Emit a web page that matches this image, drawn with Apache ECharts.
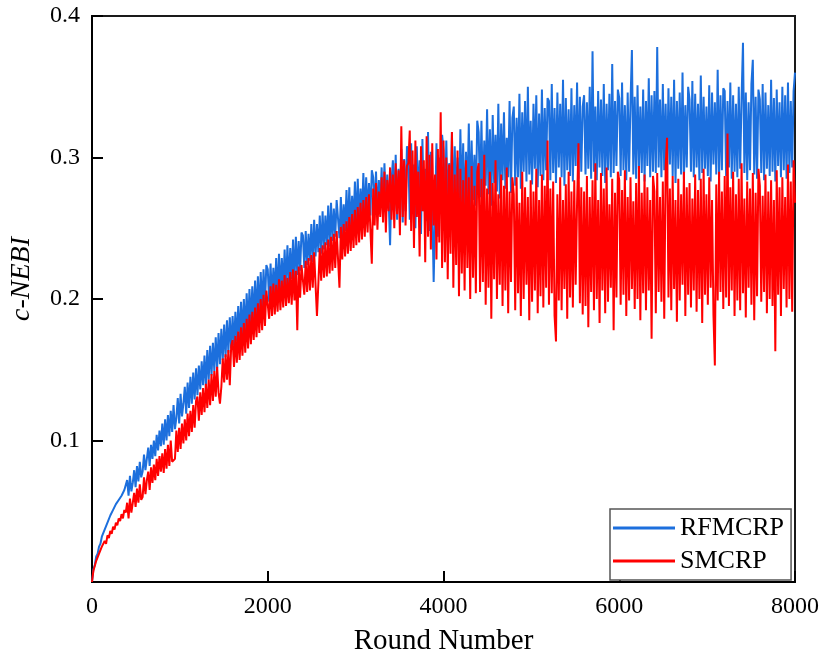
<!DOCTYPE html>
<html>
<head>
<meta charset="utf-8">
<script src="https://cdn.jsdelivr.net/npm/echarts@6/dist/echarts.min.js"></script>
<style>
html,body{margin:0;padding:0;background:#fff;}
#chart{width:820px;height:655px;}
</style>
</head>
<body>
<div id="chart"></div>
<script>
// Sampling step (rounds) between stored readings
const ROUND_STEP = 16;
const xTicks = [0, 2000, 4000, 6000, 8000];
const yTicks = [0.1, 0.2, 0.3, 0.4];
const seriesNames = ['RFMCRP', 'SMCRP'];
const axisTitles = {x: 'Round Number', y: 'c-NEBI'};

// RFMCRP readings, one per 16 rounds, 0..8000 (rows of 25 = 400 rounds)
const rfmcrp = [
0,.009,.012,.018,.020,.025,.027,.032,.033,.037,.038,.042,.043,.047,.047,.051,.051,.055,.054,.058,.058,.061,.061,.065,.064,
.072,.061,.075,.064,.070,.079,.067,.082,.071,.085,.074,.078,.090,.079,.087,.095,.082,.097,.087,.100,.089,.104,.093,.107,.096,
.112,.097,.115,.100,.118,.103,.121,.106,.125,.108,.116,.130,.112,.133,.117,.126,.138,.119,.141,.123,.145,.126,.148,.129,.151,
.132,.153,.136,.156,.139,.160,.138,.164,.143,.167,.146,.169,.149,.173,.151,.176,.154,.179,.157,.182,.159,.185,.162,.187,.165,
.188,.167,.191,.170,.195,.172,.198,.175,.200,.177,.204,.180,.207,.182,.209,.185,.213,.187,.216,.190,.219,.193,.221,.196,.224,
.221,.198,.225,.200,.222,.203,.229,.202,.232,.206,.229,.209,.235,.208,.238,.211,.236,.214,.242,.213,.244,.217,.241,.220,.247,
.245,.222,.248,.224,.246,.227,.253,.226,.256,.230,.253,.233,.259,.232,.262,.235,.259,.238,.266,.237,.268,.241,.264,.244,.270,
.269,.243,.272,.245,.267,.248,.277,.247,.279,.250,.273,.253,.283,.252,.285,.255,.278,.258,.289,.256,.286,.260,.282,.259,.291,
.286,.262,.290,.259,.284,.266,.293,.258,.296,.264,.288,.270,.238,.283,.298,.262,.302,.256,.292,.268,.306,.254,.299,.262,.308,
.302,.256,.310,.264,.295,.250,.308,.270,.298,.246,.313,.262,.292,.255,.318,.248,.304,.266,.212,.258,.310,.244,.300,.268,.316,
.305,.258,.312,.262,.296,.270,.318,.255,.308,.266,.300,.260,.320,.268,.310,.257,.304,.272,.324,.263,.312,.270,.302,.266,.326,
.318,.272,.326,.268,.312,.280,.334,.274,.320,.266,.330,.282,.316,.276,.338,.271,.324,.284,.332,.278,.314,.286,.340,.275,.328,
.336,.280,.328,.286,.345,.278,.332,.290,.340,.283,.350,.288,.326,.281,.338,.292,.344,.279,.331,.287,.348,.284,.335,.291,.342,
.340,.284,.352,.289,.335,.282,.346,.293,.338,.286,.355,.280,.342,.291,.334,.287,.349,.283,.337,.294,.353,.285,.343,.290,.336,
.344,.288,.339,.292,.350,.285,.375,.290,.336,.284,.347,.293,.341,.287,.352,.282,.338,.291,.345,.286,.366,.289,.340,.294,.348,
.342,.287,.353,.291,.337,.284,.346,.290,.339,.376,.288,.343,.285,.351,.292,.336,.289,.348,.283,.340,.294,.356,.286,.344,.290,
.347,.289,.378,.293,.341,.286,.352,.291,.338,.284,.349,.295,.343,.287,.355,.282,.340,.292,.346,.288,.360,.285,.337,.293,.350,
.341,.290,.354,.286,.345,.293,.338,.284,.358,.289,.343,.292,.336,.287,.351,.283,.346,.295,.339,.288,.362,.286,.344,.291,.349,
.347,.287,.340,.293,.353,.285,.344,.290,.338,.286,.350,.292,.342,.381,.289,.346,.284,.339,.291,.352,.369,.288,.343,.285,.348,
.341,.289,.352,.284,.346,.292,.337,.287,.355,.290,.342,.283,.348,.294,.339,.286,.350,.291,.344,.285,.353,.289,.340,.293,.347,
.360
];

// SMCRP readings, one per 16 rounds, 0..8000 (rows of 25 = 400 rounds)
const smcrp = [
0,.008,.009,.015,.015,.020,.020,.025,.024,.029,.027,.033,.031,.036,.034,.039,.037,.042,.040,.045,.043,.048,.045,.051,.049,
.056,.045,.059,.049,.050,.063,.053,.066,.056,.069,.058,.060,.074,.062,.072,.078,.065,.081,.070,.083,.072,.087,.075,.089,.078,
.091,.077,.094,.080,.097,.082,.100,.085,.084,.087,.107,.092,.109,.094,.112,.098,.115,.100,.119,.103,.121,.106,.125,.109,.128,
.131,.114,.134,.118,.137,.120,.140,.123,.143,.125,.147,.128,.149,.131,.152,.134,.126,.138,.158,.141,.161,.143,.164,.139,.167,
.171,.152,.174,.155,.177,.157,.180,.160,.183,.162,.186,.165,.189,.168,.191,.171,.194,.173,.197,.176,.200,.178,.203,.181,.206,
.207,.186,.209,.188,.211,.189,.210,.191,.214,.192,.213,.194,.217,.195,.215,.197,.219,.196,.221,.199,.220,.178,.223,.201,.224,
.225,.203,.227,.205,.229,.206,.231,.208,.233,.210,.188,.211,.236,.213,.238,.215,.240,.216,.242,.218,.244,.220,.246,.222,.248,
.249,.208,.251,.228,.253,.230,.255,.232,.258,.234,.260,.236,.263,.238,.265,.240,.268,.242,.270,.244,.272,.247,.274,.249,.225,
.278,.252,.282,.249,.276,.258,.286,.254,.290,.247,.284,.262,.293,.256,.288,.250,.296,.260,.291,.245,.322,.258,.298,.252,.294,
.296,.319,.248,.305,.236,.312,.258,.290,.230,.308,.262,.298,.226,.315,.244,.302,.235,.310,.252,.288,.228,.306,.240,.332,.222,
.312,.226,.300,.214,.295,.232,.318,.208,.288,.224,.305,.202,.292,.218,.284,.206,.298,.222,.286,.200,.294,.215,.280,.204,.290,
.296,.205,.285,.212,.302,.196,.278,.208,.290,.186,.282,.214,.298,.200,.274,.210,.288,.195,.280,.206,.293,.190,.276,.212,.286,
.274,.192,.286,.204,.268,.188,.290,.200,.279,.210,.272,.185,.284,.198,.276,.206,.292,.190,.270,.202,.288,.194,.280,.208,.312,
.196,.278,.204,.283,.188,.170,.274,.199,.286,.192,.270,.207,.281,.186,.290,.201,.276,.194,.284,.210,.268,.310,.197,.279,.189,
.276,.195,.287,.180,.272,.205,.284,.192,.296,.200,.270,.183,.289,.206,.278,.190,.293,.198,.267,.208,.285,.178,.275,.201,.290,
.284,.196,.277,.203,.291,.188,.272,.199,.286,.207,.269,.193,.282,.200,.294,.185,.275,.204,.288,.192,.279,.206,.270,.172,.287,
.276,.190,.289,.205,.272,.198,.283,.186,.294,.314,.201,.278,.192,.287,.207,.270,.184,.285,.199,.274,.210,.290,.188,.279,.203,
.282,.194,.271,.206,.288,.191,.277,.200,.285,.183,.292,.203,.274,.196,.286,.208,.270,.189,.153,.281,.199,.290,.205,.276,.193,
.287,.201,.317,.195,.279,.206,.290,.188,.274,.199,.285,.192,.296,.204,.271,.187,.283,.208,.278,.196,.289,.185,.275,.202,.292,
.280,.198,.273,.205,.288,.190,.276,.200,.284,.195,.270,.163,.291,.203,.279,.188,.286,.207,.272,.194,.295,.200,.283,.191,.298,
.268
];

const SERIF = "'Times New Roman','Liberation Serif','DejaVu Serif',serif";
function toPairs(arr){ return arr.map((v,i)=>[i*ROUND_STEP, v]); }

const chart = echarts.init(document.getElementById('chart'), null, {renderer:'canvas'});
chart.setOption({
  animation: false,
  backgroundColor: '#fff',
  grid: {left: 92, right: 25, top: 16, bottom: 73, outerBoundsMode: 'none', containLabel: false,
         show: true, borderColor: '#1a1a1a', borderWidth: 2, backgroundColor: 'transparent'},
  graphic: [{
    type: 'text', x: 22, y: 279, rotation: Math.PI / 2,
    style: {text: axisTitles.y, font: "italic 28px 'Times New Roman','Liberation Serif',serif",
            fill: '#000', textAlign: 'center', textVerticalAlign: 'middle'}
  }],
  xAxis: {
    type: 'value', min: xTicks[0], max: xTicks[xTicks.length-1], interval: 2000,
    name: axisTitles.x, nameLocation: 'middle', nameGap: 45,
    nameTextStyle: {fontFamily: SERIF, fontSize: 29, color: '#000'},
    axisLine: {show: true, onZero: false, lineStyle: {color: '#000', width: 2}},
    axisTick: {show: true, inside: true, length: 11, lineStyle: {color: '#000', width: 2}},
    axisLabel: {fontFamily: SERIF, fontSize: 24, color: '#000', margin: 13,
      formatter: v => String(v)},
    splitLine: {show: false}
  },
  yAxis: {
    type: 'value', min: 0, max: yTicks[yTicks.length-1], interval: 0.1,
    axisLine: {show: true, onZero: false, lineStyle: {color: '#000', width: 2}},
    axisTick: {show: true, inside: true, length: 11, lineStyle: {color: '#000', width: 2}},
    axisLabel: {fontFamily: SERIF, fontSize: 24, color: '#000', margin: 12,
      formatter: v => (yTicks.some(t => Math.abs(t - v) < 1e-9) ? v.toFixed(1) : '')},
    splitLine: {show: false}
  },
  legend: {
    left: 610, top: 509, orient: 'vertical',
    data: seriesNames.map(n => ({name: n, icon: 'rect'})),
    itemWidth: 62, itemHeight: 3, itemGap: 7,
    padding: [6, 7, 6, 3],
    borderColor: '#555', borderWidth: 1.5, backgroundColor: '#fff',
    textStyle: {fontFamily: SERIF, fontSize: 26, color: '#000'},
    selectedMode: false
  },
  series: [
    {name: seriesNames[0], type: 'line', data: toPairs(rfmcrp), showSymbol: false, symbol: 'none',
     color: '#1c6fdd', lineStyle: {width: 2, color: '#1c6fdd'}, z: 2},
    {name: seriesNames[1], type: 'line', data: toPairs(smcrp), showSymbol: false, symbol: 'none',
     color: '#ff0000', lineStyle: {width: 2, color: '#ff0000'}, z: 3}
  ]
});
</script>
</body>
</html>
